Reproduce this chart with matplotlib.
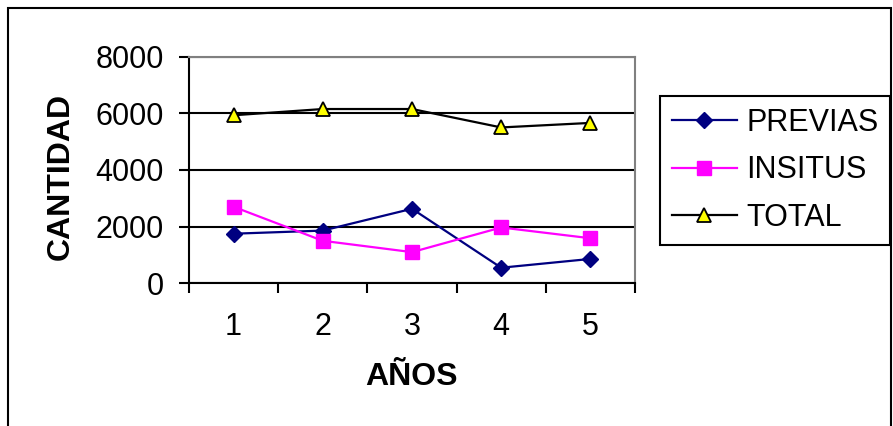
import numpy as np
import matplotlib.pyplot as plt
from matplotlib.patches import Rectangle

plt.rcParams['font.family'] = ['Liberation Sans', 'DejaVu Sans']

# datos
anios = [1, 2, 3, 4, 5]
previas = [1750, 1860, 2630, 550, 860]
insitus = [2700, 1500, 1100, 1970, 1590]
total = [5930, 6150, 6150, 5500, 5660]

W, H = 893, 426
fig = plt.figure(figsize=(W/100, H/100), dpi=100)
ax = fig.add_axes([189/W, 1-283.3/H, (635-189)/W, (283.3-56.6)/H])

ax.plot(anios, previas, color='#000080', lw=1.6, marker='D', ms=8,
        mfc='#000080', mec='#000080', label='PREVIAS', zorder=4)
ax.plot(anios, insitus, color='#FF00FF', lw=1.6, marker='s', ms=10.5,
        mfc='#FF00FF', mec='#FF00FF', label='INSITUS', zorder=4)
ax.plot(anios, total, color='black', lw=1.6, marker='^', ms=10.5,
        mfc='#FFFF00', mec='black', mew=1.3, label='TOTAL', zorder=4)

ax.set_ylim(0, 8000)
ax.set_yticks([0, 2000, 4000, 6000, 8000])
ax.set_xlim(0.5, 5.5)
ax.set_xticks(np.arange(0.5, 5.6, 1))
ax.set_xticklabels([])
ax.set_xticks(anios, minor=True)
ax.set_xticklabels([str(a) for a in anios], minor=True)

ax.yaxis.grid(True, color='black', lw=1.5)
ax.set_axisbelow(True)
ax.tick_params(axis='y', direction='out', length=7, width=1.5, pad=11, labelsize=22)
ax.tick_params(axis='x', which='major', direction='out', length=7, width=1.5)
ax.tick_params(axis='x', which='minor', length=0, pad=21, labelsize=22)

for s in ['top', 'right']:
    ax.spines[s].set_color('#808080')
    ax.spines[s].set_linewidth(1.5)
for s in ['left', 'bottom']:
    ax.spines[s].set_color('black')
    ax.spines[s].set_linewidth(1.5)

fig.text(61/W, 1-176.5/H, 'CANTIDAD', rotation=90, ha='center', va='center',
         fontsize=23, fontweight='bold')
fig.text(411/W, 1-377/H, 'AÑOS', ha='center', va='center',
         fontsize=23, fontweight='bold')

leg = fig.legend(loc='upper left', bbox_to_anchor=(660/W, 1-96/H), fontsize=22,
                 frameon=True, fancybox=False, edgecolor='black', framealpha=1,
                 handlelength=2.15, handletextpad=0.3, labelspacing=0.58,
                 borderpad=0.38, borderaxespad=0)
leg.get_frame().set_linewidth(1.5)

fig.add_artist(Rectangle((8/W, -0.05), (891-8)/W, 1.05-7.5/H, transform=fig.transFigure,
                         fill=False, ec='black', lw=1.5))

plt.savefig('out.png', dpi=100)
